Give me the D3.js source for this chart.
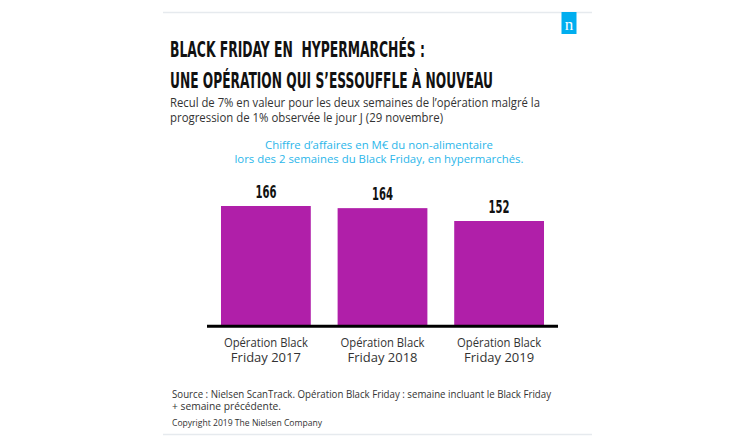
<!DOCTYPE html>
<html><head><meta charset="utf-8">
<script src="https://cdn.jsdelivr.net/npm/d3@7"></script>
<style>body{margin:0;background:#fff}svg{display:block}</style>
</head><body>
<svg id="c" width="750" height="447"></svg>
<script>
const categories = [["Opération Black","Friday 2017"],["Opération Black","Friday 2018"],["Opération Black","Friday 2019"]];
const values = [166, 164, 152];
const valueLabels = ["166","164","152"];
const titleLines = ["BLACK FRIDAY EN  HYPERMARCHÉS :","UNE OPÉRATION QUI S\u2019ESSOUFFLE À NOUVEAU"];
const subtitleLines = ["Recul de 7% en valeur pour les deux semaines de l\u2019opération malgré la","progression de 1% observée le jour J (29 novembre)"];
const chartTitleLines = ["Chiffre d\u2019affaires en M\u20ac du non-alimentaire","lors des 2 semaines du Black Friday, en hypermarchés."];
const sourceLines = ["Source : Nielsen ScanTrack. Opération Black Friday : semaine incluant le Black Friday","+ semaine précédente."];
const copyright = "Copyright 2019 The Nielsen Company";

const svg = d3.select("#c");
const sans = "'Open Sans', 'Noto Sans', sans-serif";
const narrow = "'DejaVu Sans Condensed', 'Liberation Sans Narrow', sans-serif";

// frame lines
svg.append("line").attr("x1",163).attr("x2",592).attr("y1",12.5).attr("y2",12.5).attr("stroke","#e6eaee").attr("stroke-width",1.5);
svg.append("line").attr("x1",163).attr("x2",592).attr("y1",434.5).attr("y2",434.5).attr("stroke","#e6eaee").attr("stroke-width",1.5);

// logo
svg.append("rect").attr("x",561.5).attr("y",12).attr("width",15).attr("height",22).attr("fill","#00aeef");
svg.append("text").attr("x",569).attr("y",30).attr("text-anchor","middle").attr("fill","#fff")
  .attr("font-family","'Liberation Serif','DejaVu Serif',serif").attr("font-size",17).text("n");

// title
const tl = [255, 323];
svg.selectAll("text.title").data(titleLines).join("text").attr("class","title")
  .attr("x",170).attr("y",(d,i)=>57+i*30.5)
  .attr("font-family",narrow).attr("font-weight","bold").attr("font-size",21.5).attr("fill","#111")
  .attr("textLength",(d,i)=>tl[i]).attr("lengthAdjust","spacingAndGlyphs")
  .style("white-space","pre").text(d=>d);

// subtitle
const sl = [370, 273];
svg.selectAll("text.sub").data(subtitleLines).join("text").attr("class","sub")
  .attr("x",170).attr("y",(d,i)=>107+i*14.5)
  .attr("font-family",sans).attr("font-size",11.8).attr("fill","#333")
  .attr("textLength",(d,i)=>sl[i]).attr("lengthAdjust","spacingAndGlyphs").text(d=>d);

// chart title
const cl = [228, 289];
svg.selectAll("text.ct").data(chartTitleLines).join("text").attr("class","ct")
  .attr("x",379).attr("y",(d,i)=>149+i*14).attr("text-anchor","middle")
  .attr("font-family",sans).attr("font-size",11.3).attr("fill","#2bb6ea")
  .attr("textLength",(d,i)=>cl[i]).attr("lengthAdjust","spacingAndGlyphs").text(d=>d);

// scales
const x = d3.scaleBand().domain(d3.range(values.length)).range([207,558]).paddingInner(0.23).paddingOuter(0.12);
const y = d3.scaleLinear().domain([55,166]).range([325,206]);

svg.selectAll("rect.bar").data(values).join("rect").attr("class","bar")
  .attr("x",(d,i)=>x(i)).attr("width",x.bandwidth())
  .attr("y",d=>y(d)).attr("height",d=>y(55)-y(d)).attr("fill","#b01fa9");

svg.selectAll("text.val").data(values).join("text").attr("class","val")
  .attr("x",(d,i)=>x(i)+x.bandwidth()/2).attr("y",d=>y(d)-8.5).attr("text-anchor","middle")
  .attr("font-family",narrow).attr("font-weight","bold").attr("font-size",18.5).attr("fill","#111")
  .attr("textLength",21).attr("lengthAdjust","spacingAndGlyphs")
  .text((d,i)=>valueLabels[i]);

// axis line
svg.append("line").attr("x1",207).attr("x2",558).attr("y1",326.3).attr("y2",326.3).attr("stroke","#000").attr("stroke-width",3);

// category labels
categories.forEach((c,i)=>{
  c.forEach((ln,j)=>{
    svg.append("text").attr("x",x(i)+x.bandwidth()/2).attr("y",346.5+j*15.5).attr("text-anchor","middle")
      .attr("font-family",sans).attr("font-size",12.5).attr("fill","#333")
      .attr("textLength", j===0?84:70).attr("lengthAdjust","spacingAndGlyphs").text(ln);
  });
});

// source
const srl = [379, 109];
svg.selectAll("text.src").data(sourceLines).join("text").attr("class","src")
  .attr("x",172).attr("y",(d,i)=>397.5+i*12.5)
  .attr("font-family",sans).attr("font-size",10.5).attr("fill","#333")
  .attr("textLength",(d,i)=>srl[i]).attr("lengthAdjust","spacingAndGlyphs").text(d=>d);

svg.append("text").attr("x",172).attr("y",425.5).attr("font-family",sans).attr("font-size",8.5).attr("fill","#333")
  .attr("textLength",150).attr("lengthAdjust","spacingAndGlyphs").text(copyright);
</script>
</body></html>
